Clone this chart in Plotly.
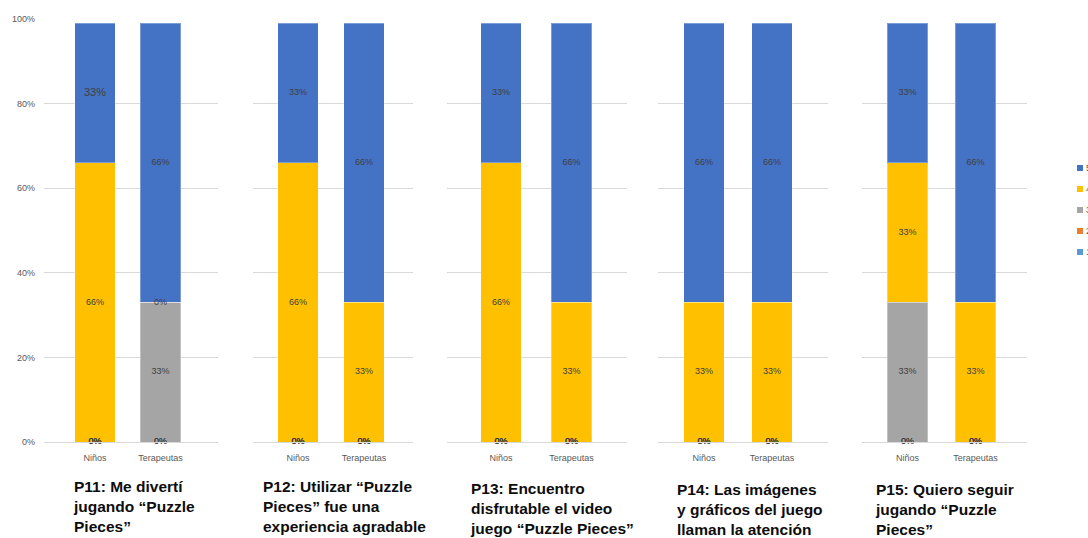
import plotly.graph_objects as go

# ---------------- data ----------------
categories = ["Niños", "Terapeutas"]
series_names = ["1", "2", "3", "4", "5"]
# rows: series 1..5, columns: Niños, Terapeutas
p11 = [[0, 0], [0, 0], [0, 0.33], [0.66, 0], [0.33, 0.66]]
p12 = [[0, 0], [0, 0], [0, 0], [0.66, 0.33], [0.33, 0.66]]
p13 = [[0, 0], [0, 0], [0, 0], [0.66, 0.33], [0.33, 0.66]]
p14 = [[0, 0], [0, 0], [0, 0], [0.33, 0.33], [0.66, 0.66]]
p15 = [[0, 0], [0, 0], [0.33, 0], [0.33, 0.33], [0.33, 0.66]]
panels = [p11, p12, p13, p14, p15]
titles = [
    "P11: Me divertí<br>jugando “Puzzle<br>Pieces”",
    "P12: Utilizar “Puzzle<br>Pieces” fue una<br>experiencia agradable",
    "P13: Encuentro<br>disfrutable el video<br>juego “Puzzle Pieces”",
    "P14: Las imágenes<br>y gráficos del juego<br>llaman la atención",
    "P15: Quiero seguir<br>jugando “Puzzle<br>Pieces”",
]
y_ticks = [0, 0.2, 0.4, 0.6, 0.8, 1.0]

# ---------------- style / layout ----------------
W, H = 1088, 538
colors = ["#5B9BD5", "#ED7D31", "#A5A5A5", "#FFC000", "#4472C4"]
grid_c = "#D9D9D9"
tick_c = "#595959"
lab_c = "#404040"
FONT = "Liberation Sans"

# pixel geometry of each panel: (plot left, plot right, center Niños, center Terapeutas)
geom = [(44, 218, 95, 160.5), (253, 413, 298, 364), (447, 627, 501, 571.5),
        (658, 828, 704, 772), (862, 1027, 907.5, 975.5)]
bar_px = 40.5
y_top_px, y_bot_px = 19, 442
title_pos = [(71, 506), (261, 506), (468, 508), (675, 509), (873, 509)]

fig = go.Figure()
layout = dict(
    width=W, height=H, margin=dict(l=0, r=0, t=0, b=0, pad=0, autoexpand=False),
    paper_bgcolor="white", plot_bgcolor="white", barmode="stack",
    showlegend=False, font=dict(family=FONT, color=tick_c),
)
annotations = []
shapes = []

ydom = [1 - y_bot_px / H, 1 - y_top_px / H]
for i, (data, (L, R, c1, c2)) in enumerate(zip(panels, geom)):
    k = "" if i == 0 else str(i + 1)
    xa, ya = "x" + k, "y" + k
    s = c2 - c1
    xr = [-(c1 - L) / s, 1 + (R - c2) / s]
    bw = bar_px / s
    # bars
    for si, name in enumerate(series_names):
        fig.add_trace(go.Bar(
            x=categories, y=data[si], name=name, xaxis=xa, yaxis=ya,
            width=[bw] * len(categories),
            marker=dict(color=colors[si], line=dict(color="rgba(255,255,255,0.3)", width=1)),
            hoverinfo="skip",
        ))
    # data labels at segment centres (including zero-value segments)
    lx, ly, lt, ls = [], [], [], []
    for ci, cat in enumerate(categories):
        base = 0.0
        for si in range(len(series_names)):
            v = data[si][ci]
            lx.append(cat)
            ly.append(base + v / 2)
            lt.append(f"{round(v * 100)}%")
            ls.append(11 if (i == 0 and ci == 0 and si == 4) else 9)
            base += v
    fig.add_trace(go.Scatter(
        x=lx, y=ly, text=lt, mode="text", textposition="middle center",
        textfont=dict(family=FONT, size=ls, color=lab_c),
        xaxis=xa, yaxis=ya, hoverinfo="skip", cliponaxis=False,
    ))
    layout["xaxis" + k] = dict(
        domain=[L / W, R / W], anchor=ya, type="category", range=xr,
        showgrid=False, showline=True, linecolor=grid_c, linewidth=1,
        ticks="", tickfont=dict(family=FONT, size=9, color=tick_c),
        ticklabelstandoff=7, fixedrange=True, automargin=False,
    )
    layout["yaxis" + k] = dict(
        domain=ydom, anchor=xa, range=[0, 1.0005], tickvals=y_ticks,
        tickformat=".0%", showgrid=True, gridcolor=grid_c, gridwidth=1,
        zeroline=False, showline=False, ticks="",
        showticklabels=(i == 0), tickfont=dict(family=FONT, size=9, color=tick_c),
        ticklabelstandoff=8, fixedrange=True, automargin=False,
    )
    tx, ty = title_pos[i]
    annotations.append(dict(
        text="<b>" + titles[i] + "</b>", xref="paper", yref="paper",
        x=tx / W, y=1 - ty / H, xanchor="left", yanchor="middle", align="left",
        showarrow=False, font=dict(family=FONT, size=15.5, color="#0D0D0D"),
    ))

# manual legend (cut by the right edge as in the reference)
leg_y = [168, 189, 210, 231, 252]
for j, si in enumerate(reversed(range(len(series_names)))):
    yc = leg_y[j]
    shapes.append(dict(type="rect", xref="paper", yref="paper",
                       x0=1077 / W, x1=1083 / W, y0=1 - (yc + 3) / H, y1=1 - (yc - 3) / H,
                       fillcolor=colors[si], line=dict(width=0)))
    annotations.append(dict(text=series_names[si], xref="paper", yref="paper",
                            x=1084 / W, y=1 - yc / H, xanchor="left", yanchor="middle",
                            showarrow=False, font=dict(family=FONT, size=9, color=tick_c)))

layout["annotations"] = annotations
layout["shapes"] = shapes
fig.update_layout(**layout)
fig.write_html("out.html")
